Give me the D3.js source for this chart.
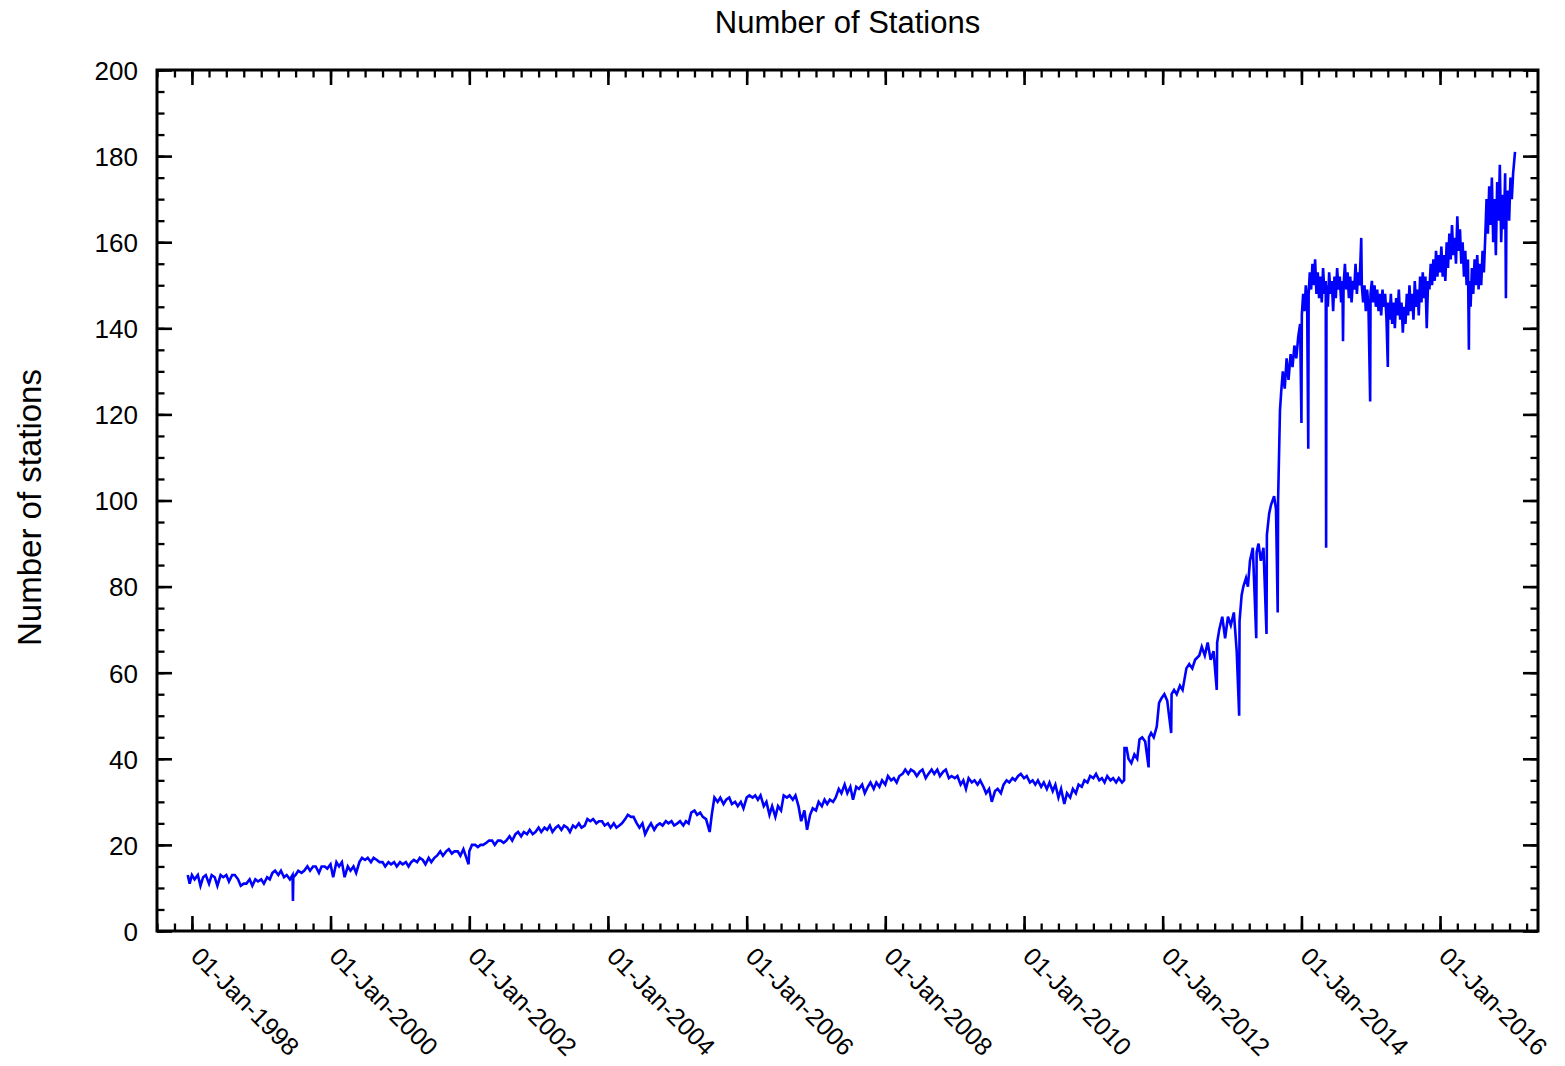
<!DOCTYPE html>
<html>
<head>
<meta charset="utf-8">
<script src="https://cdn.jsdelivr.net/npm/d3@7"></script>
<style>
  body { margin: 0; background: #fff; }
  text { font-family: "Liberation Sans", Arial, Helvetica, sans-serif; fill: #000; }
</style>
</head>
<body>
<svg class="chart"></svg>
<script>
const title = "Number of Stations";
const yLabel = "Number of stations";
const xTickDates = ["1998-01-01", "2000-01-01", "2002-01-01", "2004-01-01", "2006-01-01",
  "2008-01-01", "2010-01-01", "2012-01-01", "2014-01-01", "2016-01-01"];
const yTickValues = [0, 20, 40, 60, 80, 100, 120, 140, 160, 180, 200];
const xDomain = ["1997-07-01", "2017-05-31"];
const yDomain = [0, 200];

// [date, number of stations]
const stations = [
  ["1997-12-10", 13], ["1997-12-20", 11],
  ["1998-01-01", 13], ["1998-01-15", 12], ["1998-02-01", 13], ["1998-02-15", 10.5], ["1998-03-01", 12.5], ["1998-03-15", 13],
  ["1998-04-01", 11], ["1998-04-15", 13], ["1998-05-01", 12.5], ["1998-05-15", 10.5], ["1998-06-01", 13], ["1998-06-15", 12.5],
  ["1998-07-01", 13], ["1998-07-15", 11.5], ["1998-08-01", 13], ["1998-08-15", 13], ["1998-09-01", 12], ["1998-09-15", 10.5],
  ["1998-10-01", 11], ["1998-10-15", 11], ["1998-11-01", 12], ["1998-11-15", 10.5], ["1998-12-01", 12], ["1998-12-15", 11.5],
  ["1999-01-01", 12], ["1999-01-15", 11], ["1999-02-01", 12.5], ["1999-02-15", 12], ["1999-03-01", 13.5], ["1999-03-15", 14],
  ["1999-04-01", 13], ["1999-04-15", 14], ["1999-05-01", 12.5], ["1999-05-15", 13], ["1999-06-01", 12], ["1999-06-15", 13],
  ["1999-06-17", 7], ["1999-06-19", 12.5], ["1999-07-01", 13], ["1999-07-15", 14], ["1999-08-01", 13.5], ["1999-08-15", 14],
  ["1999-09-01", 15], ["1999-09-15", 14], ["1999-10-01", 15], ["1999-10-15", 15], ["1999-11-01", 13.5], ["1999-11-15", 15],
  ["1999-12-01", 15], ["1999-12-15", 14.5],
  ["2000-01-01", 15.5], ["2000-01-15", 12.5], ["2000-02-01", 16], ["2000-02-15", 15], ["2000-03-01", 16], ["2000-03-15", 12.5],
  ["2000-04-01", 15], ["2000-04-15", 14], ["2000-05-01", 15], ["2000-05-15", 13.5], ["2000-06-01", 16], ["2000-06-15", 17],
  ["2000-07-01", 16.5], ["2000-07-15", 17], ["2000-08-01", 16], ["2000-08-15", 17], ["2000-09-01", 16.5], ["2000-09-15", 16],
  ["2000-10-01", 16], ["2000-10-15", 15], ["2000-11-01", 16], ["2000-11-15", 15.5], ["2000-12-01", 16], ["2000-12-15", 15],
  ["2001-01-01", 16], ["2001-01-15", 15.5], ["2001-02-01", 16], ["2001-02-15", 15], ["2001-03-01", 16], ["2001-03-15", 16.5],
  ["2001-04-01", 16], ["2001-04-15", 17], ["2001-05-01", 16.5], ["2001-05-15", 15.5], ["2001-06-01", 17], ["2001-06-15", 16],
  ["2001-07-01", 17], ["2001-07-15", 17.5], ["2001-08-01", 18.5], ["2001-08-15", 17.5], ["2001-09-01", 18.5], ["2001-09-15", 19],
  ["2001-10-01", 18], ["2001-10-15", 18.5], ["2001-11-01", 18.5], ["2001-11-15", 17.5], ["2001-12-01", 19], ["2001-12-28", 15.5],
  ["2002-01-01", 18.5], ["2002-01-15", 20], ["2002-02-01", 20], ["2002-02-15", 19.5], ["2002-03-01", 20], ["2002-03-15", 20],
  ["2002-04-01", 20.5], ["2002-04-15", 21], ["2002-05-01", 21], ["2002-05-15", 20], ["2002-06-01", 21], ["2002-06-15", 21],
  ["2002-07-01", 20.5], ["2002-07-15", 21], ["2002-08-01", 22], ["2002-08-15", 21], ["2002-09-01", 22.5], ["2002-09-15", 23],
  ["2002-10-01", 22], ["2002-10-15", 23], ["2002-11-01", 22.5], ["2002-11-15", 23.5], ["2002-12-01", 22.5], ["2002-12-15", 23],
  ["2003-01-01", 24], ["2003-01-15", 23], ["2003-02-01", 24], ["2003-02-15", 23.5], ["2003-03-01", 24.5], ["2003-03-15", 23],
  ["2003-04-01", 24], ["2003-04-15", 24.5], ["2003-05-01", 23.5], ["2003-05-15", 24.5], ["2003-06-01", 24], ["2003-06-15", 23],
  ["2003-07-01", 24.5], ["2003-07-15", 24], ["2003-08-01", 25], ["2003-08-15", 24], ["2003-09-01", 24.5], ["2003-09-15", 26],
  ["2003-10-01", 25.5], ["2003-10-15", 26], ["2003-11-01", 25], ["2003-11-15", 25.5], ["2003-12-01", 25.5], ["2003-12-15", 24.5],
  ["2004-01-01", 25], ["2004-01-15", 24], ["2004-02-01", 25], ["2004-02-15", 24], ["2004-03-01", 24.5], ["2004-03-15", 25],
  ["2004-04-01", 26], ["2004-04-15", 27], ["2004-05-01", 26.5], ["2004-05-15", 26.5], ["2004-06-01", 25], ["2004-06-15", 24],
  ["2004-07-01", 25], ["2004-07-15", 22.5], ["2004-08-01", 24], ["2004-08-15", 25], ["2004-09-01", 23.5], ["2004-09-15", 24.5],
  ["2004-10-01", 25], ["2004-10-15", 24.5], ["2004-11-01", 25.5], ["2004-11-15", 25], ["2004-12-01", 25.5], ["2004-12-15", 24.5],
  ["2005-01-01", 25], ["2005-01-15", 25.5], ["2005-02-01", 24.5], ["2005-02-15", 25.5], ["2005-03-01", 25], ["2005-03-15", 27.5],
  ["2005-04-01", 28], ["2005-04-15", 27], ["2005-05-01", 27.5], ["2005-05-15", 26.5], ["2005-06-01", 26], ["2005-06-20", 23],
  ["2005-07-01", 27], ["2005-07-15", 31], ["2005-08-01", 30], ["2005-08-15", 31], ["2005-09-01", 29.5], ["2005-09-15", 30.5],
  ["2005-10-01", 31], ["2005-10-15", 29.5], ["2005-11-01", 30], ["2005-11-15", 29], ["2005-12-01", 30], ["2005-12-15", 28.5],
  ["2006-01-01", 31], ["2006-01-15", 31.5], ["2006-02-01", 31], ["2006-02-15", 31.5], ["2006-03-01", 30.5], ["2006-03-15", 31.5],
  ["2006-04-01", 29], ["2006-04-15", 30], ["2006-05-01", 27], ["2006-05-15", 29], ["2006-06-01", 26.5], ["2006-06-15", 29],
  ["2006-07-01", 28], ["2006-07-15", 31.5], ["2006-08-01", 31], ["2006-08-15", 31.5], ["2006-09-01", 30.5], ["2006-09-15", 31.5],
  ["2006-10-01", 29], ["2006-10-15", 25.5], ["2006-11-01", 28], ["2006-11-15", 23.5], ["2006-12-01", 27], ["2006-12-15", 28.5],
  ["2007-01-01", 28], ["2007-01-15", 30], ["2007-02-01", 29], ["2007-02-15", 30.5], ["2007-03-01", 29.5], ["2007-03-15", 30.5],
  ["2007-04-01", 30], ["2007-04-15", 31], ["2007-05-01", 33], ["2007-05-15", 32], ["2007-06-01", 34], ["2007-06-15", 32],
  ["2007-07-01", 33.5], ["2007-07-15", 30.5], ["2007-08-01", 33.5], ["2007-08-15", 33], ["2007-09-01", 34], ["2007-09-15", 32],
  ["2007-10-01", 33.5], ["2007-10-15", 34.5], ["2007-11-01", 33], ["2007-11-15", 34.5], ["2007-12-01", 33.5], ["2007-12-15", 35],
  ["2008-01-01", 34], ["2008-01-15", 36], ["2008-02-01", 35], ["2008-02-15", 35.5], ["2008-03-01", 34.5], ["2008-03-15", 36],
  ["2008-04-01", 36.5], ["2008-04-15", 37.5], ["2008-05-01", 36.5], ["2008-05-15", 37.5], ["2008-06-01", 37], ["2008-06-15", 36],
  ["2008-07-01", 37], ["2008-07-15", 37.5], ["2008-08-01", 35.5], ["2008-08-15", 36.5], ["2008-09-01", 37.5], ["2008-09-15", 36.5],
  ["2008-10-01", 37.5], ["2008-10-15", 36], ["2008-11-01", 37], ["2008-11-15", 37.5], ["2008-12-01", 35.5], ["2008-12-15", 36],
  ["2009-01-01", 35.5], ["2009-01-15", 36], ["2009-02-01", 34], ["2009-02-15", 35], ["2009-03-01", 33], ["2009-03-15", 35.5],
  ["2009-04-01", 34.5], ["2009-04-15", 35], ["2009-05-01", 34], ["2009-05-15", 35], ["2009-06-01", 33.5], ["2009-06-15", 32],
  ["2009-07-01", 33], ["2009-07-15", 30], ["2009-08-01", 32.5], ["2009-08-15", 33], ["2009-09-01", 32], ["2009-09-15", 34],
  ["2009-10-01", 35], ["2009-10-15", 34.5], ["2009-11-01", 35.5], ["2009-11-15", 35], ["2009-12-01", 36], ["2009-12-15", 36.5],
  ["2010-01-01", 35.5], ["2010-01-15", 36], ["2010-02-01", 34.5], ["2010-02-15", 35], ["2010-03-01", 34], ["2010-03-15", 35],
  ["2010-04-01", 33.5], ["2010-04-15", 34.5], ["2010-05-01", 33], ["2010-05-15", 34.5], ["2010-06-01", 32.5], ["2010-06-15", 34],
  ["2010-07-01", 31], ["2010-07-15", 33], ["2010-08-01", 29.5], ["2010-08-15", 32], ["2010-09-01", 31], ["2010-09-15", 33],
  ["2010-10-01", 32], ["2010-10-15", 34], ["2010-11-01", 33.5], ["2010-11-15", 35], ["2010-12-01", 34.5], ["2010-12-15", 36],
  ["2011-01-01", 35.5], ["2011-01-15", 36.5], ["2011-02-01", 35], ["2011-02-15", 35.5], ["2011-03-01", 34.5], ["2011-03-15", 36],
  ["2011-04-01", 35], ["2011-04-15", 35.5], ["2011-05-01", 34.5], ["2011-05-15", 35.5], ["2011-06-01", 34.5], ["2011-06-12", 35],
  ["2011-06-14", 42.5], ["2011-06-25", 42.5], ["2011-07-05", 40], ["2011-07-20", 39], ["2011-08-05", 41], ["2011-08-20", 40],
  ["2011-09-01", 44.5], ["2011-09-15", 45], ["2011-10-01", 44], ["2011-10-19", 38], ["2011-10-21", 45], ["2011-11-01", 46],
  ["2011-11-15", 45], ["2011-12-01", 47.5], ["2011-12-13", 53], ["2011-12-25", 54],
  ["2012-01-10", 55], ["2012-01-25", 53.5], ["2012-02-15", 46], ["2012-02-17", 55], ["2012-03-01", 56], ["2012-03-15", 55],
  ["2012-04-01", 57], ["2012-04-15", 56], ["2012-05-05", 61], ["2012-05-20", 62], ["2012-06-05", 61], ["2012-06-20", 63],
  ["2012-07-12", 64], ["2012-07-25", 66], ["2012-08-10", 64], ["2012-08-25", 67], ["2012-09-10", 63], ["2012-09-25", 65],
  ["2012-10-12", 56], ["2012-10-14", 67], ["2012-10-25", 70], ["2012-11-10", 73], ["2012-11-25", 68], ["2012-12-10", 73],
  ["2012-12-25", 71],
  ["2013-01-10", 74], ["2013-01-25", 65], ["2013-02-07", 50], ["2013-02-09", 72], ["2013-02-20", 78], ["2013-03-01", 80],
  ["2013-03-15", 82], ["2013-03-25", 80], ["2013-04-05", 86], ["2013-04-20", 89], ["2013-05-08", 68], ["2013-05-10", 88],
  ["2013-05-20", 90], ["2013-06-01", 86], ["2013-06-15", 89], ["2013-07-01", 69], ["2013-07-03", 92], ["2013-07-15", 97],
  ["2013-07-25", 99], ["2013-08-10", 101], ["2013-08-20", 98], ["2013-08-29", 74], ["2013-08-31", 100], ["2013-09-10", 121],
  ["2013-09-16", 125], ["2013-09-25", 130], ["2013-10-05", 126], ["2013-10-15", 133], ["2013-10-25", 128], ["2013-11-05", 134],
  ["2013-11-15", 131], ["2013-11-25", 136], ["2013-12-05", 133], ["2013-12-15", 138], ["2013-12-25", 141],
  ["2014-01-01", 118], ["2014-01-03", 143], ["2014-01-10", 148], ["2014-01-17", 144], ["2014-01-24", 150], ["2014-01-31", 146],
  ["2014-02-06", 112], ["2014-02-08", 148], ["2014-02-14", 153], ["2014-02-21", 149], ["2014-02-28", 155], ["2014-03-07", 150],
  ["2014-03-14", 156], ["2014-03-21", 148], ["2014-03-28", 153], ["2014-04-04", 147], ["2014-04-11", 152], ["2014-04-18", 146],
  ["2014-04-25", 154], ["2014-05-02", 148], ["2014-05-09", 151], ["2014-05-11", 89], ["2014-05-13", 150], ["2014-05-20", 145],
  ["2014-05-27", 153], ["2014-06-03", 148], ["2014-06-10", 151], ["2014-06-17", 144], ["2014-06-24", 152], ["2014-07-01", 147],
  ["2014-07-08", 154], ["2014-07-15", 149], ["2014-07-22", 152], ["2014-07-29", 146], ["2014-08-05", 151], ["2014-08-08", 137],
  ["2014-08-11", 150], ["2014-08-18", 155], ["2014-08-25", 149], ["2014-09-01", 153], ["2014-09-08", 147], ["2014-09-15", 152],
  ["2014-09-22", 146], ["2014-09-29", 151], ["2014-10-06", 149], ["2014-10-13", 155], ["2014-10-20", 148], ["2014-10-27", 153],
  ["2014-11-03", 150], ["2014-11-12", 161], ["2014-11-15", 150], ["2014-11-22", 146], ["2014-11-29", 150], ["2014-12-06", 144],
  ["2014-12-13", 149], ["2014-12-20", 145], ["2014-12-29", 123], ["2014-12-31", 148],
  ["2015-01-07", 151], ["2015-01-14", 146], ["2015-01-21", 150], ["2015-01-28", 145], ["2015-02-04", 149], ["2015-02-11", 144],
  ["2015-02-18", 148], ["2015-02-25", 143], ["2015-03-04", 149], ["2015-03-11", 145], ["2015-03-18", 148], ["2015-03-25", 142],
  ["2015-04-01", 131], ["2015-04-03", 146], ["2015-04-10", 142], ["2015-04-17", 148], ["2015-04-24", 141], ["2015-05-01", 146],
  ["2015-05-08", 140], ["2015-05-15", 147], ["2015-05-22", 143], ["2015-05-29", 149], ["2015-06-05", 142], ["2015-06-12", 146],
  ["2015-06-19", 139], ["2015-06-26", 145], ["2015-07-03", 141], ["2015-07-10", 148], ["2015-07-17", 143], ["2015-07-24", 150],
  ["2015-07-31", 144], ["2015-08-07", 148], ["2015-08-14", 142], ["2015-08-21", 151], ["2015-08-28", 145], ["2015-09-04", 149],
  ["2015-09-11", 143], ["2015-09-18", 152], ["2015-09-25", 146], ["2015-10-02", 153], ["2015-10-09", 147], ["2015-10-16", 152],
  ["2015-10-23", 140], ["2015-10-30", 151], ["2015-11-06", 149], ["2015-11-13", 155], ["2015-11-20", 150], ["2015-11-27", 156],
  ["2015-12-04", 151], ["2015-12-11", 158], ["2015-12-18", 152], ["2015-12-25", 157],
  ["2016-01-01", 153], ["2016-01-08", 159], ["2016-01-15", 152], ["2016-01-22", 157], ["2016-01-29", 151], ["2016-02-05", 160],
  ["2016-02-12", 154], ["2016-02-19", 162], ["2016-02-26", 156], ["2016-03-04", 164], ["2016-03-11", 157], ["2016-03-18", 161],
  ["2016-03-25", 155], ["2016-04-01", 166], ["2016-04-08", 158], ["2016-04-15", 163], ["2016-04-22", 155], ["2016-04-29", 160],
  ["2016-05-06", 152], ["2016-05-13", 158], ["2016-05-20", 150], ["2016-05-27", 156], ["2016-06-01", 135], ["2016-06-03", 151],
  ["2016-06-10", 145], ["2016-06-17", 154], ["2016-06-24", 148], ["2016-07-01", 156], ["2016-07-08", 150], ["2016-07-15", 157],
  ["2016-07-22", 149], ["2016-07-29", 155], ["2016-08-05", 150], ["2016-08-12", 158], ["2016-08-19", 153], ["2016-08-26", 161],
  ["2016-09-02", 170], ["2016-09-09", 162], ["2016-09-16", 173], ["2016-09-23", 164], ["2016-09-30", 175], ["2016-10-07", 160],
  ["2016-10-14", 170], ["2016-10-21", 157], ["2016-10-28", 174], ["2016-11-04", 165], ["2016-11-11", 178], ["2016-11-18", 160],
  ["2016-11-25", 171], ["2016-12-02", 163], ["2016-12-09", 176], ["2016-12-13", 147], ["2016-12-16", 168], ["2016-12-23", 172],
  ["2016-12-30", 165], ["2017-01-06", 175], ["2017-01-13", 170], ["2017-01-20", 176], ["2017-01-30", 181]
];

const width = 1565,
  height = 1066,
  margin = {top: 70, right: 27, bottom: 135, left: 157},
  plotW = width - margin.left - margin.right,
  plotH = height - margin.top - margin.bottom,
  lineColor = "#0000ff";

const parseDate = d3.timeParse("%Y-%m-%d");
const formatTick = d3.timeFormat("%d-%b-%Y");

const x = d3.scaleTime()
  .domain(xDomain.map(parseDate))
  .range([0, plotW]);
const y = d3.scaleLinear()
  .domain(yDomain)
  .range([plotH, 0]);

const svg = d3.select(".chart")
  .attr("width", width)
  .attr("height", height)
  .style("display", "block")
  .style("background", "#fff");

svg.append("text")
  .attr("x", margin.left + plotW / 2)
  .attr("y", 33)
  .attr("text-anchor", "middle")
  .style("font-size", "31px")
  .text(title);

svg.append("text")
  .attr("transform", `translate(41, ${margin.top + plotH / 2 + 7}) rotate(-90)`)
  .attr("text-anchor", "middle")
  .style("font-size", "33px")
  .text(yLabel);

const chart = svg.append("g")
  .attr("transform", `translate(${margin.left}, ${margin.top})`);

const majorX = xTickDates.map(parseDate);
const minorX = d3.timeMonth.every(3).range(x.domain()[0], x.domain()[1]);
const minorY = d3.range(yDomain[0], yDomain[1] + 1, 5);

function styleTicks(g, width) {
  g.select(".domain").remove();
  g.selectAll(".tick line")
    .attr("stroke", "#000")
    .attr("stroke-width", width);
}

// minor ticks on all four sides
chart.append("g")
  .attr("transform", `translate(0, ${plotH})`)
  .call(d3.axisBottom(x).tickValues(minorX).tickSize(-7.5).tickFormat(""))
  .call(styleTicks, 2.3);
chart.append("g")
  .call(d3.axisTop(x).tickValues(minorX).tickSize(-7.5).tickFormat(""))
  .call(styleTicks, 2.3);
chart.append("g")
  .call(d3.axisLeft(y).tickValues(minorY).tickSize(-7.5).tickFormat(""))
  .call(styleTicks, 2.3);
chart.append("g")
  .attr("transform", `translate(${plotW}, 0)`)
  .call(d3.axisRight(y).tickValues(minorY).tickSize(-7.5).tickFormat(""))
  .call(styleTicks, 2.3);

// major ticks
const xAxis = chart.append("g")
  .attr("transform", `translate(0, ${plotH})`)
  .call(d3.axisBottom(x).tickValues(majorX).tickSize(-15).tickFormat(formatTick))
  .call(styleTicks, 2.6);
xAxis.selectAll(".tick text")
  .attr("x", null)
  .attr("y", null)
  .attr("dy", null)
  .attr("text-anchor", "start")
  .attr("transform", "translate(-3, 27) rotate(45)")
  .style("font-size", "25px")
  .style("font-family", '"Liberation Sans", Arial, sans-serif')
  .attr("fill", "#000");

chart.append("g")
  .call(d3.axisTop(x).tickValues(majorX).tickSize(-15).tickFormat(""))
  .call(styleTicks, 2.6);

const yAxis = chart.append("g")
  .call(d3.axisLeft(y).tickValues(yTickValues).tickSize(-15))
  .call(styleTicks, 2.6);
yAxis.selectAll(".tick text")
  .attr("x", -19)
  .attr("dy", "0.36em")
  .style("font-size", "26px")
  .style("font-family", '"Liberation Sans", Arial, sans-serif')
  .attr("fill", "#000");

chart.append("g")
  .attr("transform", `translate(${plotW}, 0)`)
  .call(d3.axisRight(y).tickValues(yTickValues).tickSize(-15).tickFormat(""))
  .call(styleTicks, 2.6);

const line = d3.line()
  .x(d => x(parseDate(d[0])))
  .y(d => y(d[1]));

chart.append("path")
  .datum(stations)
  .attr("fill", "none")
  .attr("stroke", lineColor)
  .attr("stroke-width", 2.6)
  .attr("stroke-linejoin", "miter")
  .attr("d", line);

chart.append("rect")
  .attr("width", plotW)
  .attr("height", plotH)
  .attr("fill", "none")
  .attr("stroke", "#000")
  .attr("stroke-width", 3);
</script>
</body>
</html>
